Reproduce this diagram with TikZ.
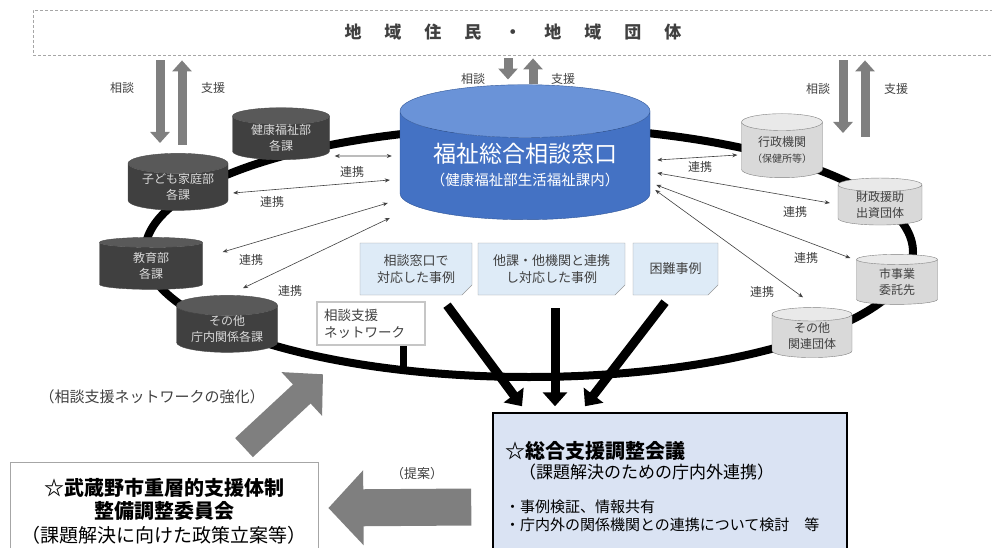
\documentclass[tikz,border=0pt]{standalone}
\usepackage{fontspec}
\setmainfont{Noto Sans CJK JP}
\usepackage{tikz}
\usetikzlibrary{arrows.meta,calc,shapes.geometric,shapes.misc}
\definecolor{madoblue}{HTML}{4472C4}
\definecolor{madotop}{HTML}{6A93D8}
\definecolor{madoline}{HTML}{2F5597}
\definecolor{darkcyl}{HTML}{404040}
\definecolor{darkcyltop}{HTML}{595959}
\definecolor{lightcyl}{HTML}{D9D9D9}
\definecolor{lightcyltop}{HTML}{E9E9E9}
\definecolor{notefill}{HTML}{DEEBF7}
\definecolor{meetfill}{HTML}{DAE3F3}
\definecolor{textgray}{HTML}{404040}
\definecolor{arrowgray}{HTML}{7F7F7F}

\begin{document}
\begin{tikzpicture}[x=1pt,y=-1pt,
  jumin/.style={draw=gray!70,densely dashed,line width=0.8pt,minimum width=960pt,minimum height=45pt,text=textgray,font=\fontsize{17}{20}\selectfont\bfseries},
  darkbase/.style={cylinder,shape border rotate=90,aspect=0.28,draw=black!70,cylinder uses custom fill,cylinder body fill=darkcyl,cylinder end fill=darkcyltop,text=white!85!black,align=center,inner sep=0pt,font=\fontsize{12}{15.5}\selectfont},
  lightbase/.style={darkbase,draw=gray,cylinder body fill=lightcyl,cylinder end fill=lightcyltop,text=textgray},
  madoguchi/.style={darkbase,draw=madoline,cylinder body fill=madoblue,cylinder end fill=madotop,text=white,font=\fontsize{23}{26}\selectfont},
  casenote/.style={chamfered rectangle,chamfered rectangle corners=south east,chamfered rectangle xsep=5pt,chamfered rectangle ysep=5pt,draw=gray!80,fill=notefill,align=center,text=textgray,font=\fontsize{13}{17}\selectfont,minimum height=52pt,inner sep=0pt},
  netbox/.style={draw=gray!45,line width=2.5pt,fill=white,text width=94pt,inner xsep=7pt,minimum height=43pt,align=left,text=textgray,font=\fontsize{13.5}{17}\selectfont},
  meetbox/.style={draw=black,line width=1.5pt,fill=meetfill,text width=330pt,inner xsep=12pt,minimum height=147pt,align=left,font=\fontsize{15}{18}\selectfont},
  iinbox/.style={draw=gray!70,line width=0.8pt,fill=white,minimum width=308pt,minimum height=98pt,align=center,font=\fontsize{20}{23.5}\selectfont},
  renkei/.style={<->,>={Stealth[length=5pt,width=4pt]},draw=textgray,line width=0.6pt},
  lbl/.style={text=textgray,font=\fontsize{12}{14}\selectfont},
  vert/.style={draw=arrowgray,line width=9pt,-{Triangle[length=11pt,width=19pt]}},
  kakoarrow/.style={line width=9pt,-{Triangle[length=14pt,width=24pt]}},
  bigarrow/.style={draw=arrowgray,line width=37pt,-{Triangle[length=35pt,width=73pt]}},
  kyoka/.style={draw=arrowgray,line width=26pt,-{Triangle[length=29pt,width=58pt]}}]
\path[use as bounding box,clip] (0,0) rectangle (992,548);

\node[jumin] (jumin) at (513,32.5) {地\hskip23pt 域\hskip23pt 住\hskip23pt 民\hskip23pt ・\hskip23pt 地\hskip23pt 域\hskip23pt 団\hskip23pt 体};

\draw[line width=8pt] (529,252) ellipse [x radius=384,y radius=125];

\node[madoguchi,minimum width=250pt,minimum height=135pt] (mado) at (525,165.5) {福祉総合相談窓口\\[-3pt]{\fontsize{14.5}{17}\selectfont （健康福祉部生活福祉課内）}};

\node[darkbase,minimum width=97pt,minimum height=50pt] (kenko) at (281,138) {健康福祉部\\各課};
\node[darkbase,minimum width=100pt,minimum height=48pt] (kodomo) at (178,187) {子ども家庭部\\各課};
\node[darkbase,minimum width=103pt,minimum height=52pt] (kyoiku) at (151,266) {教育部\\各課};
\node[darkbase,minimum width=101pt,minimum height=48pt] (chonai) at (227,329) {その他\\庁内関係各課};

\node[lightbase,minimum width=81pt,minimum height=64pt] (gyosei) at (782,150) {行政機関\\{\fontsize{10}{12}\selectfont （保健所等）}};
\node[lightbase,minimum width=84pt,minimum height=47pt] (zaisei) at (880,205) {財政援助\\出資団体};
\node[lightbase,minimum width=81pt,minimum height=50pt] (shijigyo) at (897,282) {市事業\\委託先};
\node[lightbase,minimum width=80pt,minimum height=50pt] (sonota) at (812,336) {その他\\関連団体};

\draw[vert] ($(jumin.south)+(-353,5)$) -- (160,143);
\draw[vert] (182,145) -- ($(jumin.south)+(-331,5)$);
\draw[vert] ($(jumin.south)+(-5,3)$) -- ($(mado.north)+(-17,-5)$);
\draw[vert] ($(mado.north)+(8,-1)$) -- ($(jumin.south)+(20,3)$);
\draw[vert] ($(jumin.south)+(330,5)$) -- (843,133);
\draw[vert] (865,137) -- ($(jumin.south)+(352,5)$);
\node[lbl] (sodan1) at (122,88) {相談};
\node[lbl] (shien1) at (213,88) {支援};
\node[lbl] (sodan2) at (473,79) {相談};
\node[lbl] (shien2) at (563,79) {支援};
\node[lbl] (sodan3) at (818,89) {相談};
\node[lbl] (shien3) at (896,89) {支援};

\draw[renkei] ($(kenko.east)+(5,18)$) -- ($(mado.west)+(-8,-9.5)$);
\draw[renkei] ($(kodomo.east)+(5,6)$) -- ($(mado.west)+(-10,14.5)$);
\draw[renkei] ($(kyoiku.east)+(20,-14)$) -- ($(mado.west)+(-12,37.5)$);
\draw[renkei] ($(chonai.north)+(16,-7)$) -- ($(mado.west)+(-10,52.5)$);
\draw[renkei] ($(mado.east)+(7,-5.5)$) -- ($(gyosei.west)+(-4,5)$);
\draw[renkei] ($(mado.east)+(7,7.5)$) -- ($(zaisei.west)+(-8,-2)$);
\draw[renkei] ($(mado.east)+(6,19.5)$) -- ($(shijigyo.west)+(-6,-24)$);
\draw[renkei] ($(mado.east)+(5,24.5)$) -- ($(sonota.north)+(-9,-10)$);
\node[lbl] (renkei1) at (352,172) {連携};
\node[lbl] (renkei2) at (272,202) {連携};
\node[lbl] (renkei3) at (251,260) {連携};
\node[lbl] (renkei4) at (290,291) {連携};
\node[lbl] (renkei5) at (700,167) {連携};
\node[lbl] (renkei6) at (795,212) {連携};
\node[lbl] (renkei7) at (806,258) {連携};
\node[lbl] (renkei8) at (762,292) {連携};

\node[casenote,minimum width=112pt] (case1) at (416,269) {相談窓口で\\対応した事例};
\node[casenote,minimum width=147pt] (case2) at (551.5,269) {他課・他機関と連携\\し対応した事例};
\node[casenote,minimum width=85pt] (case3) at (675.5,269) {困難事例};

\node[netbox] (net) at (371,323.5) {相談支援\\ネットワーク};
\coordinate (netfoot) at (403,372);
\draw[line width=7pt] (net.south -| netfoot) -- (netfoot);

\node[meetbox] (meeting) at (670,486.5) {{\fontsize{20}{24}\selectfont\bfseries ☆総合支援調整会議}\\[2pt]
\hspace*{14pt}{\fontsize{17}{20}\selectfont （課題解決のための庁内外連携）}\\[16pt]
・事例検証、情報共有\\
・庁内外の関係機関との連携について検討　等};

\draw[kakoarrow] ($(case1.south)+(31,10)$) -- ($(meeting.north)+(-148,-6)$);
\draw[kakoarrow] ($(case2.south)+(3.5,13)$) -- ($(meeting.north)+(-115,-6)$);
\draw[kakoarrow] ($(case3.south)+(-10.5,7)$) -- ($(meeting.north)+(-85,-6)$);

\node[iinbox] (iinkai) at (164,511) {{\bfseries ☆武蔵野市重層的支援体制}\\{\bfseries 整備調整委員会}\\{\fontsize{19}{22}\selectfont （課題解決に向けた政策立案等）}};

\draw[bigarrow] ($(meeting.west)+(-21,20.5)$) -- ($(iinkai.east)+(10,-3)$);
\node[lbl,font=\fontsize{13}{15}\selectfont] (teian) at (417,474) {（提案）};
\draw[kyoka] ($(iinkai.north)+(80,-14)$) -- ($(net.south)+(-48,28)$);
\node[lbl,font=\fontsize{15}{17}\selectfont] (kyokalbl) at (152,397) {（相談支援ネットワークの強化）};
\end{tikzpicture}
\end{document}
